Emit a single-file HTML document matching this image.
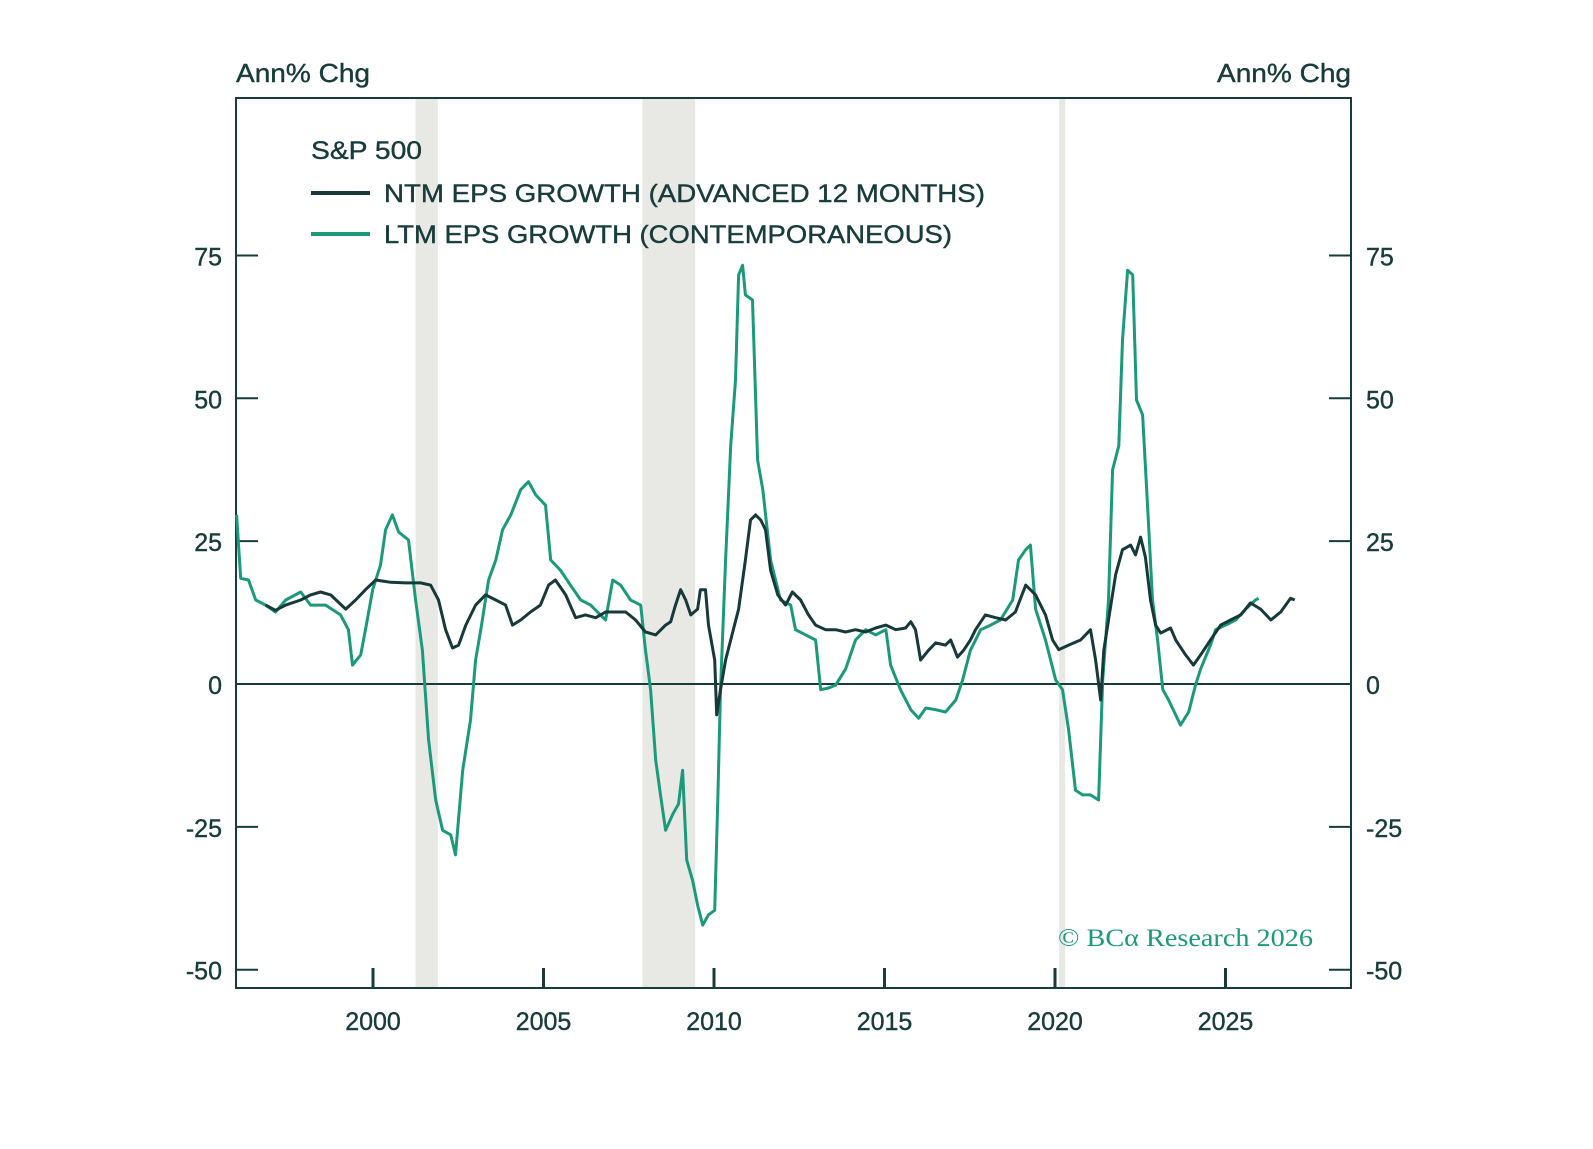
<!DOCTYPE html>
<html><head><meta charset="utf-8"><style>
body{margin:0;background:#fff}
svg text{font-family:"Liberation Sans",sans-serif;fill:#183c3b;stroke:#183c3b;stroke-width:0.4}
</style></head><body>
<svg id="chart" width="1593" height="1144" viewBox="0 0 1593 1144" xmlns="http://www.w3.org/2000/svg">
<g id="rec"></g>
<g id="grid"></g>
<g id="lines"></g>
<text x="236" y="82" font-size="26" textLength="134" lengthAdjust="spacingAndGlyphs">Ann% Chg</text>
<text x="1217" y="82" font-size="26" textLength="134" lengthAdjust="spacingAndGlyphs">Ann% Chg</text>
<text x="311" y="159" font-size="25" textLength="111" lengthAdjust="spacingAndGlyphs">S&amp;P 500</text>
<line x1="311" y1="193" x2="370" y2="193" stroke="#17393a" stroke-width="4"/>
<text x="384" y="202" font-size="25" textLength="601" lengthAdjust="spacingAndGlyphs">NTM EPS GROWTH (ADVANCED 12 MONTHS)</text>
<line x1="311" y1="234" x2="370" y2="234" stroke="#1a9a7a" stroke-width="4"/>
<text x="384" y="243" font-size="25" textLength="568" lengthAdjust="spacingAndGlyphs">LTM EPS GROWTH (CONTEMPORANEOUS)</text>
<text x="1058" y="946" font-size="25" textLength="255" lengthAdjust="spacingAndGlyphs" style="font-family:'Liberation Serif',serif;fill:#1a9a7a;stroke:none">© BCα Research 2026</text>
</svg>
<script>
const yTicks=[75,50,25,0,-25,-50];
const xTicks=[2000,2005,2010,2015,2020,2025];
const recessions=[[2001.25,2001.9],[2007.9,2009.45],[2020.12,2020.3]];
const ltmYears=[1996.00,1996.12,1996.35,1996.56,1996.85,1997.14,1997.44,1997.88,1998.17,1998.61,1999.05,1999.28,1999.40,1999.64,1999.78,1999.99,2000.22,2000.37,2000.57,2000.75,2001.04,2001.25,2001.45,2001.63,2001.84,2002.04,2002.28,2002.42,2002.63,2002.86,2003.01,2003.16,2003.39,2003.60,2003.80,2004.04,2004.33,2004.56,2004.77,2005.06,2005.21,2005.50,2005.79,2006.09,2006.38,2006.67,2006.82,2007.03,2007.26,2007.55,2007.85,2007.99,2008.14,2008.29,2008.43,2008.58,2008.79,2008.96,2009.08,2009.20,2009.37,2009.52,2009.67,2009.84,2010.02,2010.11,2010.19,2010.34,2010.49,2010.63,2010.72,2010.84,2010.92,2011.13,2011.28,2011.43,2011.66,2011.95,2012.25,2012.39,2012.69,2012.98,2013.13,2013.36,2013.57,2013.86,2014.15,2014.45,2014.74,2015.04,2015.18,2015.47,2015.77,2016.00,2016.21,2016.50,2016.79,2017.09,2017.29,2017.52,2017.82,2018.11,2018.40,2018.76,2018.93,2019.14,2019.28,2019.43,2019.72,2020.02,2020.22,2020.40,2020.60,2020.81,2021.04,2021.28,2021.40,2021.57,2021.69,2021.87,2021.98,2022.13,2022.28,2022.39,2022.57,2022.72,2022.86,2023.01,2023.16,2023.33,2023.54,2023.68,2023.92,2024.12,2024.27,2024.56,2024.71,2025.00,2025.30,2025.59,2025.88,2025.97];
const ltmValues=[29.6,18.5,18.2,14.7,13.8,12.6,14.7,16.1,13.8,13.8,12.1,9.5,3.3,5.1,9.5,16.5,20.8,27.0,29.6,26.6,25.2,14.7,5.9,-9.8,-20.3,-25.6,-26.4,-29.9,-15.1,-6.3,4.2,9.5,18.2,21.7,27.0,29.6,34.0,35.4,33.1,31.3,21.7,19.9,17.3,14.7,13.8,12.1,11.2,18.2,17.3,14.7,13.8,5.9,-1.0,-13.3,-19.4,-25.6,-22.8,-21.0,-15.1,-30.8,-34.3,-38.7,-42.2,-40.4,-39.6,-20.3,-1.0,21.7,41.7,53.2,71.6,73.3,68.1,67.2,39.2,34.0,21.7,14.7,13.8,9.5,8.6,7.7,-1.0,-0.7,-0.2,2.6,7.7,9.5,8.6,9.5,3.3,-1.0,-4.5,-6.0,-4.2,-4.5,-4.9,-2.8,0.7,5.9,9.5,10.3,11.2,14.7,21.7,23.5,24.3,13.1,7.7,0.7,-1.0,-8.0,-18.6,-19.4,-19.4,-20.3,0.7,14.7,37.5,41.7,60.2,72.4,71.6,49.7,47.1,30.4,14.7,7.7,-1.0,-2.8,-5.4,-7.2,-4.9,-0.2,2.6,6.8,9.5,10.3,11.2,13.1,14.7,15.0];
const ntmYears=[1996.85,1997.14,1997.44,1997.88,1998.17,1998.46,1998.76,1999.20,1999.49,1999.78,2000.08,2000.52,2000.96,2001.40,2001.69,2001.92,2002.13,2002.33,2002.51,2002.72,2003.01,2003.30,2003.60,2003.89,2004.09,2004.33,2004.62,2004.91,2005.15,2005.35,2005.65,2005.94,2006.23,2006.53,2006.82,2007.11,2007.41,2007.70,2007.99,2008.29,2008.58,2008.73,2008.87,2009.02,2009.17,2009.32,2009.52,2009.60,2009.75,2009.84,2010.02,2010.08,2010.19,2010.34,2010.49,2010.72,2010.92,2011.07,2011.22,2011.37,2011.51,2011.66,2011.87,2012.10,2012.30,2012.54,2012.77,2012.98,2013.27,2013.57,2013.86,2014.15,2014.45,2014.74,2015.04,2015.33,2015.62,2015.77,2015.91,2016.06,2016.29,2016.50,2016.79,2016.94,2017.14,2017.32,2017.52,2017.67,2017.96,2018.26,2018.55,2018.84,2019.14,2019.43,2019.72,2019.93,2020.11,2020.40,2020.75,2021.04,2021.19,2021.34,2021.43,2021.57,2021.78,2021.98,2022.22,2022.36,2022.51,2022.65,2022.80,2022.95,2023.10,2023.39,2023.54,2023.83,2024.06,2024.27,2024.56,2024.86,2025.15,2025.45,2025.73,2026.03,2026.33,2026.62,2026.91,2027.03];
const ntmValues=[13.8,12.9,13.8,14.7,15.6,16.1,15.6,13.1,14.7,16.5,18.2,17.8,17.7,17.7,17.3,14.7,9.5,6.3,6.8,10.3,13.8,15.6,14.7,13.8,10.3,11.2,12.6,13.8,17.3,18.2,15.6,11.6,12.1,11.6,12.6,12.6,12.6,11.2,9.1,8.6,10.3,10.9,13.8,16.5,14.7,12.1,13.1,16.5,16.5,10.3,4.2,-5.4,-1.0,4.2,7.7,13.1,21.7,28.7,29.6,28.7,27.0,19.9,15.6,13.8,16.1,14.7,12.1,10.3,9.5,9.5,9.1,9.5,9.1,9.8,10.3,9.5,9.8,10.9,9.5,4.2,5.9,7.2,6.8,7.7,4.7,5.9,7.7,9.5,12.1,11.6,11.2,12.6,17.3,15.6,12.1,7.7,6.0,6.8,7.7,9.5,4.2,-2.8,5.9,11.2,19.2,23.5,24.3,22.6,25.7,22.2,14.7,10.3,8.9,9.8,7.7,5.1,3.3,5.1,7.7,10.3,11.2,12.1,14.2,13.1,11.2,12.6,15.0,14.7];

const NS='http://www.w3.org/2000/svg';
const L=236,R=1351,T=98,B=988;
const X=y=>373+(y-2000)*34.1;
const Y=v=>684-v*5.714;
const C='#183c3b';
function mk(tag,attrs,parent){const e=document.createElementNS(NS,tag);for(const k in attrs)e.setAttribute(k,attrs[k]);document.getElementById(parent).appendChild(e);return e;}
recessions.forEach(r=>{
  const e=mk('rect',{x:X(r[0]),y:T,width:X(r[1])-X(r[0]),height:B-T,fill:'#e8e8e4'},'rec');
  
  
});
yTicks.forEach(v=>{
  const a=mk('line',{x1:L,x2:L+22,y1:Y(v),y2:Y(v),stroke:C,'stroke-width':2},'grid');
  
  
  const b=mk('line',{x1:R-22,x2:R,y1:Y(v),y2:Y(v),stroke:C,'stroke-width':2},'grid');
  
  
  const t1=mk('text',{x:222,y:Y(v)+10,'font-size':25,'text-anchor':'end'},'grid');t1.textContent=v;
  
  
  const t2=mk('text',{x:1366,y:Y(v)+10,'font-size':25},'grid');t2.textContent=v;
  
  
});
const z=mk('line',{x1:L,x2:R,y1:Y(0),y2:Y(0),stroke:C,'stroke-width':2},'grid');


xTicks.forEach(y=>{
  const a=mk('line',{x1:X(y),x2:X(y),y1:B,y2:B-20,stroke:C,'stroke-width':3},'grid');
  
  
  const t=mk('text',{x:X(y),y:1030,'font-size':25,'text-anchor':'middle'},'grid');t.textContent=y;
  
  
});
const f=mk('rect',{x:L,y:T,width:R-L,height:B-T,fill:'none',stroke:C,'stroke-width':2},'grid');


function path(xs,vs){return xs.map((y,i)=>(i?'L':'M')+X(y).toFixed(1)+','+Y(vs[i]).toFixed(1)).join('');}
const g=mk('path',{d:path(ltmYears,ltmValues),fill:'none',stroke:'#1a9a7a','stroke-width':3,'stroke-linejoin':'round'},'lines');


const n=mk('path',{d:path(ntmYears,ntmValues),fill:'none',stroke:'#17393a','stroke-width':3,'stroke-linejoin':'round'},'lines');


</script>
</body></html>
